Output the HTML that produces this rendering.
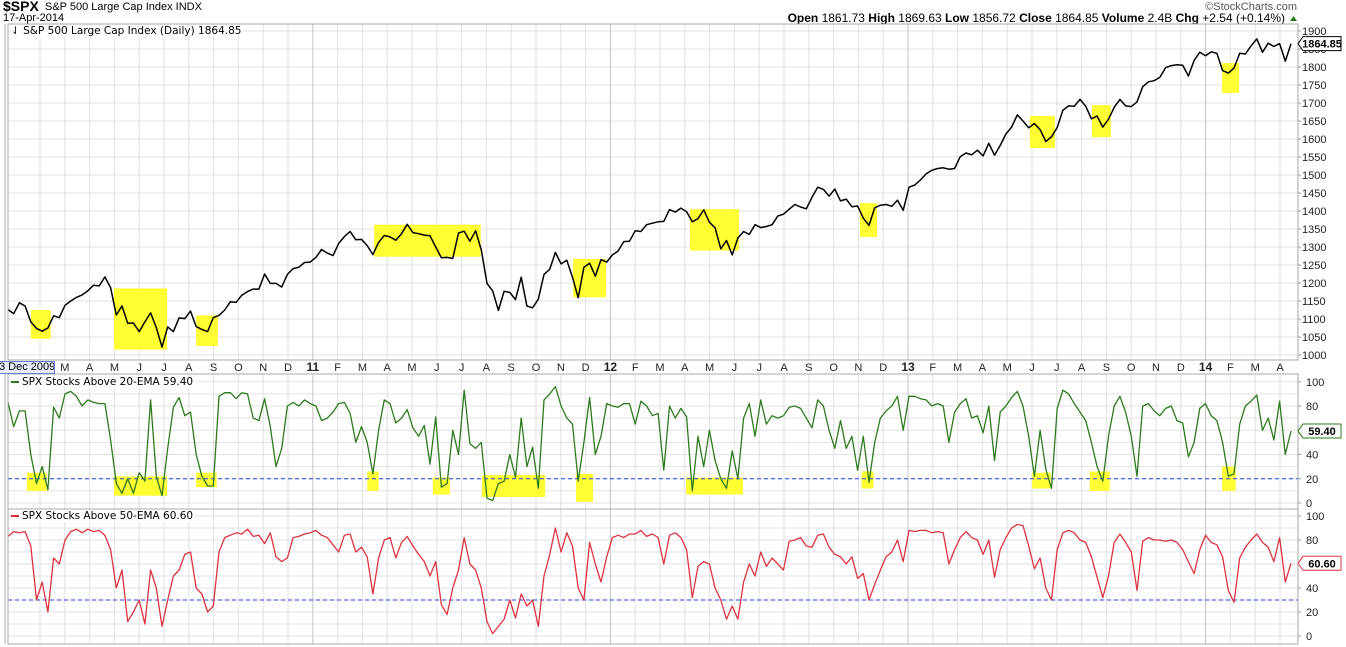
<!DOCTYPE html>
<html><head><meta charset="utf-8"><title>SPX chart</title>
<style>
html,body{margin:0;padding:0;background:#fff;}
svg{display:block;font-family:"Liberation Sans",sans-serif;}
</style></head>
<body>
<svg id="chart" width="1346" height="647" viewBox="0 0 1346 647" xmlns="http://www.w3.org/2000/svg">
  <rect x="0" y="0" width="1346" height="647" fill="#fff"/>
  <g>
    <text x="3" y="11" font-size="14" font-weight="bold">$SPX</text>
    <text x="45" y="10" font-size="11">S&amp;P 500 Large Cap Index  INDX</text>
    <text x="3" y="21" font-size="11">17-Apr-2014</text>
    <text x="1297" y="10" font-size="11" fill="#555" text-anchor="end">©StockCharts.com</text>
    <text x="1285" y="22" font-size="12" text-anchor="end"><tspan font-weight="bold">Open</tspan> 1861.73  <tspan font-weight="bold">High</tspan> 1869.63  <tspan font-weight="bold">Low</tspan> 1856.72  <tspan font-weight="bold">Close</tspan> 1864.85  <tspan font-weight="bold">Volume</tspan> 2.4B  <tspan font-weight="bold">Chg</tspan> +2.54 (+0.14%)</text>
    <polygon points="1290,21 1297,21 1293.5,16" fill="#2a7a1a"/>
  </g>
  <g id="grid"></g>
  <g id="boxes"></g>
  <g id="series"></g>
  <g id="axes"></g>
</svg>
<script>
// ---------- DATA ----------
const priceValues = [1126,1115,
1145,1136,1092,1074,1066,1075,1109,1104,1138,1150,1160,1167,1178,1194,1192,1217,1187,1111,1136,1088,1089,1065,1092,1117,1076,1022,1078,1065,1103,1101,1122,1079,1071,1065,1104,1110,1125,1148,1146,1166,1176,1183,1183,1225,1199,1199,1189,1224,1240,1244,1257,1258,
1271,1293,1283,1276,1310,1329,1343,1320,1321,1304,1279,1313,1332,1328,1319,1337,1363,1340,1337,1333,1331,1300,1270,1271,1268,1339,1344,1316,1345,1292,1199,1178,1124,1177,1174,1154,1216,1136,1131,1155,1224,1238,1285,1253,1263,1216,1159,1244,1255,1219,1265,1258,
1278,1289,1315,1316,1345,1343,1362,1366,1370,1371,1404,1397,1408,1398,1370,1379,1403,1369,1353,1295,1318,1278,1325,1343,1335,1362,1354,1357,1362,1386,1391,1405,1418,1411,1406,1438,1466,1460,1441,1461,1428,1433,1412,1414,1380,1360,1409,1416,1418,1413,1430,1402,
1466,1472,1486,1503,1513,1518,1520,1516,1518,1551,1561,1556,1569,1553,1588,1555,1582,1614,1633,1667,1650,1631,1643,1626,1593,1606,1632,1680,1692,1691,1710,1691,1656,1664,1633,1655,1688,1710,1692,1690,1703,1745,1759,1762,1771,1798,1804,1806,1805,1775,1818,1841,
1831,1842,1838,1790,1783,1797,1838,1836,1859,1878,1841,1866,1857,1865,1816,1864.85];
const ema20Values = [83,63,76,76,40,16,30,11,79,70,90,92,88,80,85,83,82,82,52,16,8,20,8,25,18,85,22,6,45,79,87,72,75,40,22,14,14,88,91,91,86,91,90,70,68,86,63,30,45,80,83,80,85,82,80,68,70,75,82,83,74,50,63,50,24,60,85,82,66,70,77,62,55,64,32,71,13,16,60,40,93,49,45,50,4,2,16,18,40,21,70,30,46,12,85,90,96,80,70,65,18,50,87,40,55,82,80,79,82,82,65,84,80,72,74,27,80,70,78,71,10,55,30,60,35,20,12,43,20,70,82,55,85,65,72,70,72,79,80,78,70,62,85,80,60,45,68,45,55,27,55,17,50,70,76,80,88,60,88,88,86,85,80,82,80,50,75,82,86,70,72,58,80,35,75,80,87,92,80,55,22,60,28,12,78,93,90,82,75,68,50,30,18,55,80,88,75,55,22,80,82,76,72,78,80,68,66,38,50,78,82,72,68,50,22,24,65,80,84,89,60,70,52,84,40,59.4];
const ema50Values = [83,87,86,87,75,30,45,20,65,60,80,87,89,86,89,87,88,84,72,40,55,12,20,30,10,55,40,8,30,50,55,68,70,40,35,20,25,70,82,84,86,85,89,83,84,77,86,66,62,65,82,83,85,86,88,84,82,76,70,84,85,70,74,66,35,65,80,82,65,78,83,75,68,62,50,62,26,18,40,55,82,60,55,40,12,2,8,14,30,15,35,25,30,8,50,68,90,70,86,75,40,30,78,60,45,66,82,84,82,85,85,88,83,85,82,60,84,86,82,72,32,58,62,60,40,30,14,25,14,45,60,50,70,58,65,60,55,79,80,82,75,74,84,85,74,68,66,60,66,48,52,30,43,55,66,70,80,62,88,87,88,88,86,87,86,60,72,82,87,82,80,68,80,49,72,82,90,93,92,75,56,65,40,30,72,86,88,86,80,78,66,49,32,50,78,85,78,70,38,79,82,80,80,79,80,78,72,62,52,72,84,78,76,66,38,28,65,74,80,85,78,74,62,82,45,60.6];
const priceTicks = [1000,1050,1100,1150,1200,1250,1300,1350,1400,1450,1500,1550,1600,1650,1700,1750,1800,1850,1900];
const pctTicks = [0,20,40,60,80,100];
const monthLabels = ["F","M","A","M","J","J","A","S","O","N","D","11","F","M","A","M","J","J","A","S","O","N","D","12","F","M","A","M","J","J","A","S","O","N","D","13","F","M","A","M","J","J","A","S","O","N","D","14","F","M","A"];
// highlight ranges: [startWeek, endWeek, low, high]
const priceBoxes = [[4.0,7.5,1045,1125],[18.6,27.9,1015,1185],[33,36.8,1025,1110],[64.2,82.9,1273,1362],[99.1,104.9,1160,1267],[119.6,128.2,1290,1405],[149.4,152.4,1328,1422],[179.2,183.6,1575,1664],[190.1,193.4,1605,1694],[212.9,215.9,1728,1811]];
const ema20Boxes = [[3.3,6.8,10,25],[18.6,27.9,6,22],[33,36.6,13,25],[63,65,10,26],[74.5,77.5,7,21],[83.1,94.2,5,23],[99.6,102.6,1,24],[118.9,128.9,7,21],[149.7,151.8,12,26],[179.6,182.9,12,25],[189.7,193.2,10,26],[212.9,215.3,10,30]];
const ema20Ref = 20;
const ema50Ref = 30;

// ---------- SCALES ----------
const NS = "http://www.w3.org/2000/svg";
const L = 8, R = 1298;
const nW = priceValues.length;
function xW(i){ return 8 + i * (1291 - 8) / (nW - 1); }
function xM(m){ return 40 + m * 24.8; }
function yP(v){ return 31 + (1900 - v) * 0.36; }
function yG(v){ return 503 - v * 1.2125; }
function yR(v){ return 636 - v * 1.2; }
const panels = [
  {top:24, bot:360, y:yP},
  {top:374, bot:509, y:yG},
  {top:509, bot:644, y:yR}
];
function mk(tag, attrs, parent){
  const e = document.createElementNS(NS, tag);
  for (const k in attrs) e.setAttribute(k, attrs[k]);
  parent.appendChild(e);
  return e;
}
const grid = document.getElementById('grid');
const boxes = document.getElementById('boxes');
const series = document.getElementById('series');
const axes = document.getElementById('axes');

for (const v of priceTicks){
  const g = mk('line',{x1:L,x2:R,y1:yP(v),y2:yP(v),stroke:'#e2e2e2','stroke-width':1},grid);
  
  
  const t = mk('line',{x1:R,x2:R+3,y1:yP(v),y2:yP(v),stroke:'#999'},axes);
  
  
  const lb = mk('text',{x:R+4,y:yP(v)+4,'font-size':11,fill:'#222'},axes);
  lb.textContent = v;
  
  
}
for (let v = 0; v <= 100; v += 10){
  for (const f of [yG, yR]){
    const g = mk('line',{x1:L,x2:R,y1:f(v),y2:f(v),stroke:'#e2e2e2','stroke-width':1},grid);
    
    
  }
}
for (const v of pctTicks){
  for (const f of [yG, yR]){
    const t = mk('line',{x1:R,x2:R+3,y1:f(v),y2:f(v),stroke:'#999'},axes);
    
    
    const lb = mk('text',{x:R+8,y:f(v)+4,'font-size':11,fill:'#222'},axes);
    lb.textContent = v;
    
    
  }
}
monthLabels.forEach((m, i) => {
  const x = xM(i);
  const yr = /\d/.test(m);
  for (const p of panels){
    const g = mk('line',{x1:x,x2:x,y1:p.top,y2:p.bot,stroke:yr?'#c4c4c4':'#e2e2e2','stroke-width':1},grid);
    
    
  }
  const lb = mk('text',{x:x,y:371,'font-size':yr?12:11,'font-weight':yr?'bold':'normal','text-anchor':'middle',fill:'#222'},axes);
  lb.textContent = m;
  
  
});

for (const b of priceBoxes){
  const r = mk('rect',{x:xW(b[0]),y:yP(b[3]),width:xW(b[1])-xW(b[0]),height:yP(b[2])-yP(b[3]),fill:'#ffff33'},boxes);
  
  
}
for (const b of ema20Boxes){
  const r = mk('rect',{x:xW(b[0]),y:yG(b[3]),width:xW(b[1])-xW(b[0]),height:yG(b[2])-yG(b[3]),fill:'#ffff33'},boxes);
  
  
}

const rl1 = mk('line',{x1:L,x2:R,y1:yG(ema20Ref),y2:yG(ema20Ref),stroke:'#2244ee','stroke-dasharray':'4,3','stroke-width':1},series);


const rl2 = mk('line',{x1:L,x2:R,y1:yR(ema50Ref),y2:yR(ema50Ref),stroke:'#2244ee','stroke-dasharray':'4,3','stroke-width':1},series);



function poly(vals, f, color, w, name){
  const pts = vals.map((v,i)=> xW(i).toFixed(1)+','+f(v).toFixed(1)).join(' ');
  const p = mk('polyline',{points:pts,fill:'none',stroke:color,'stroke-width':w,'stroke-linejoin':'round'},series);
  
  
}
poly(priceValues, yP, '#000', 1.5, 'price-line');
poly(ema20Values, yG, '#2e7a1e', 1.3, 'ema20-line');
poly(ema50Values, yR, '#dd3340', 1.3, 'ema50-line');

for (const p of panels){
  const r = mk('rect',{x:L,y:p.top,width:R-L,height:p.bot-p.top,fill:'none',stroke:'#aaa','stroke-width':1},axes);
  
  
}
const ax = mk('line',{x1:5,x2:5,y1:24,y2:644,stroke:'#aaa'},axes);



function tag(v, f, label, color, name){
  const y = f(v);
  const g = mk('g',{},axes);
  
  
  mk('polygon',{points:`${R},${y} ${R+5},${y-7} ${R+43},${y-7} ${R+43},${y+7} ${R+5},${y+7}`,fill:'#fff',stroke:color,'stroke-width':1},g);
  const t = mk('text',{x:R+24,y:y+4,'font-size':11,'font-weight':'bold','text-anchor':'middle',fill:'#000'},g);
  t.textContent = label;
}
tag(priceValues[nW-1], yP, '1864.85', '#000', 'price-value-tag');
tag(ema20Values[ema20Values.length-1], yG, '59.40', '#2e7a1e', 'ema20-value-tag');
tag(ema50Values[ema50Values.length-1], yR, '60.60', '#dd3340', 'ema50-value-tag');
</script>
<div style="position:absolute;left:0;top:0;width:1346px;height:647px;pointer-events:none;font-family:'DejaVu Sans',sans-serif;">
  <div style="position:absolute;left:11px;top:25px;font-size:10.5px;background:#fff;padding-right:2px;">⇃ S&amp;P 500 Large Cap Index (Daily) 1864.85</div>
  <div style="position:absolute;left:-2px;top:361px;width:55px;height:11px;border:1px solid #6a7fd0;background:#e8ecff;font-family:'Liberation Sans',sans-serif;font-size:11px;line-height:11px;white-space:nowrap;overflow:hidden;">3 Dec 2009</div>
  <div style="position:absolute;left:11px;top:376px;font-size:10.5px;background:#fff;padding-right:2px;"><span style="display:inline-block;width:8px;height:2px;background:#2e7a1e;vertical-align:middle;margin-right:3px;"></span>SPX Stocks Above 20-EMA 59.40</div>
  <div style="position:absolute;left:11px;top:510px;font-size:10.5px;background:#fff;padding-right:2px;"><span style="display:inline-block;width:8px;height:2px;background:#dd3340;vertical-align:middle;margin-right:3px;"></span>SPX Stocks Above 50-EMA 60.60</div>
</div>
</body></html>
